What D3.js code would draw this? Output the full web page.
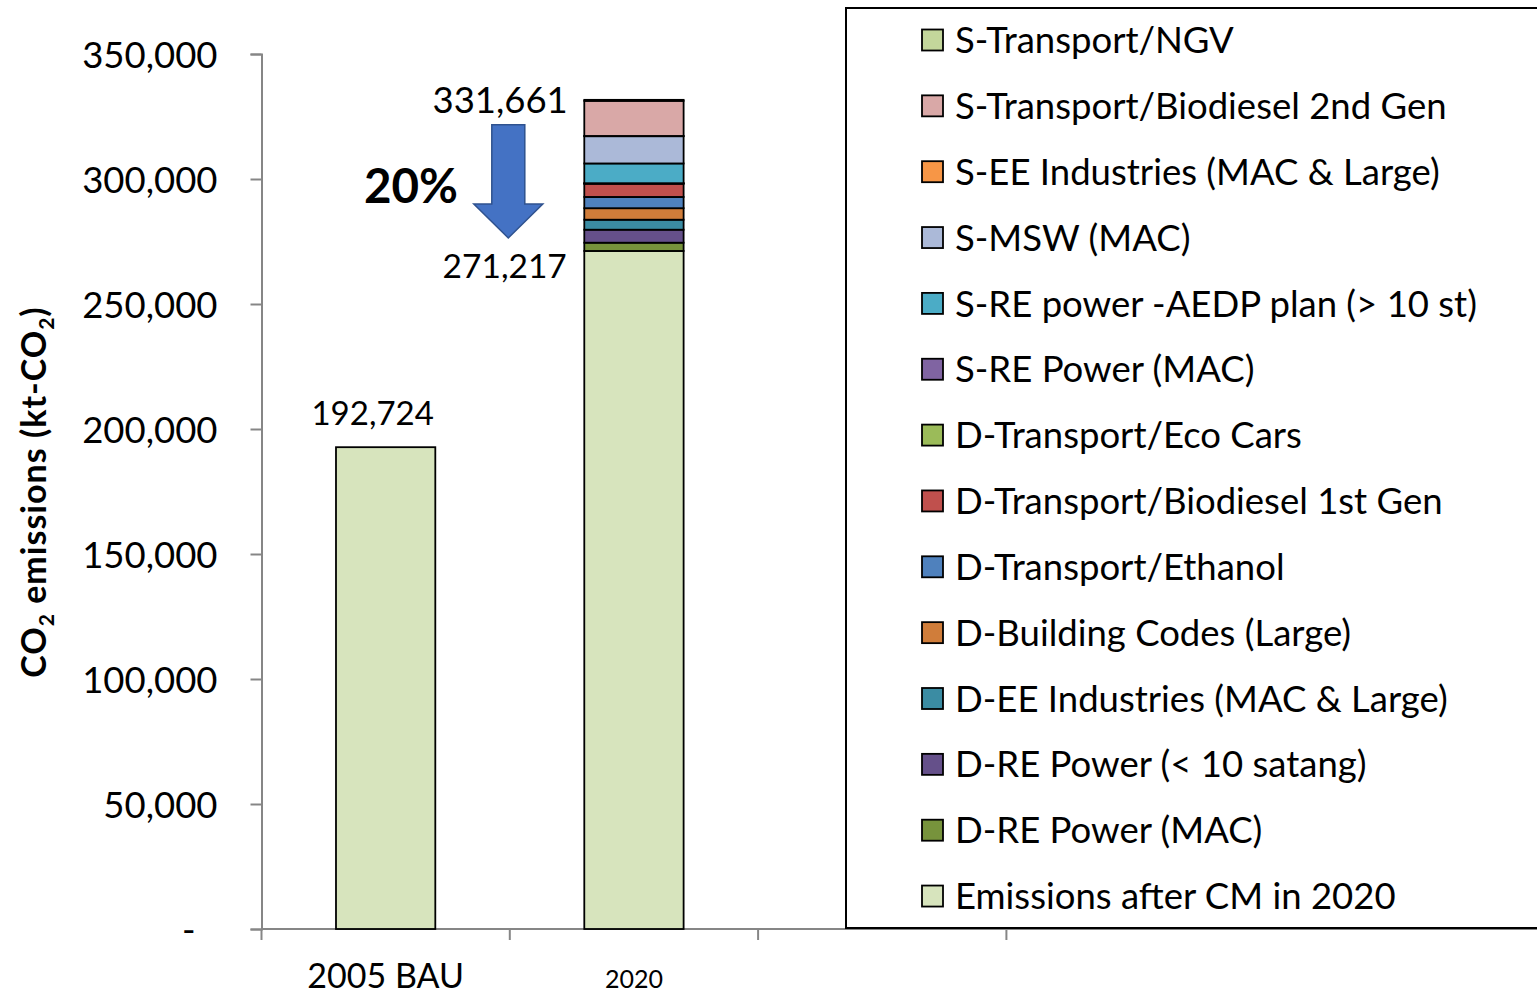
<!DOCTYPE html>
<html>
<head>
<meta charset="utf-8">
<script src="https://cdn.jsdelivr.net/npm/d3@7"></script>
<style>
  body { margin: 0; background: #fff; }
  text { font-family: Lato, "Open Sans", sans-serif; fill: #000; }
</style>
</head>
<body>
<div id="chart"></div>
<script>
// data
var categories = ["2005 BAU", "2020", "c3", "c4"];
var bau2005 = 192724;
var total2020 = 331661;
var base2020 = 271217;
// stack order bottom -> top (legend shows top -> bottom)
var seriesNames = [
    "Emissions after CM in 2020",
    "D-RE Power (MAC)",
    "D-RE Power (< 10 satang)",
    "D-EE Industries (MAC & Large)",
    "D-Building Codes (Large)",
    "D-Transport/Ethanol",
    "D-Transport/Biodiesel 1st Gen",
    "D-Transport/Eco Cars",
    "S-RE Power (MAC)",
    "S-RE power -AEDP plan (> 10 st)",
    "S-MSW (MAC)",
    "S-EE Industries (MAC & Large)",
    "S-Transport/Biodiesel 2nd Gen",
    "S-Transport/NGV"
];
var values2020 = [271217, 3300, 5200, 4000, 4600, 4500, 5300, 100, 100, 7900, 10900, 100, 14044, 400];
var seriesColors = ["#d7e4bd", "#77933c", "#65508a", "#3b8ca3", "#d07d3a", "#4f81bd", "#c0504d",
    "#9bbb59", "#8064a2", "#4bacc6", "#abb9d8", "#f79646", "#d9a8a7", "#c3d69b"];
var yTicks = [0, 50000, 100000, 150000, 200000, 250000, 300000, 350000];

var width = 1537, height = 994;
var svg = d3.select("#chart").append("svg")
    .attr("width", width)
    .attr("height", height);

var axisX = 261.5, axisBottom = 929, axisTop = 54;
var y = d3.scaleLinear().domain([0, 350000]).range([axisBottom, axisTop]);
var x = d3.scaleBand().domain(categories).range([axisX, axisX + 4 * 248.3]);
var barW = x.bandwidth() * 0.4;

// y axis
var yAxis = svg.append("g")
    .attr("transform", "translate(" + axisX + ",0)")
    .call(d3.axisLeft(y).tickValues(yTicks).tickSize(11).tickPadding(33)
        .tickFormat((d) => {return d === 0 ? "-" : d3.format(",")(d);}));
yAxis.selectAll("line").style("stroke", "#868686").style("stroke-width", 2);
yAxis.select(".domain").style("stroke", "#868686").style("stroke-width", 2);
yAxis.selectAll("text").style("font-family", "Lato").style("font-size", "36.5px")
    .attr("dy", "0.36em")
    .attr("dx", (d) => {return d === 0 ? -22 : 0;});

// x axis (ticks between categories, excel style)
svg.append("line")
    .attr("x1", axisX).attr("x2", width)
    .attr("y1", axisBottom).attr("y2", axisBottom)
    .style("stroke", "#868686").style("stroke-width", 2);
svg.selectAll(".xtick")
    .data(categories).enter()
    .append("line")
    .attr("class", "xtick")
    .attr("x1", (d) => {return x(d);})
    .attr("x2", (d) => {return x(d);})
    .attr("y1", axisBottom)
    .attr("y2", axisBottom + 11)
    .style("stroke", "#868686").style("stroke-width", 2);
svg.append("text")
    .text("2005 BAU")
    .attr("text-anchor", "middle")
    .attr("x", x("2005 BAU") + x.bandwidth() / 2)
    .attr("y", 988)
    .style("font-size", "34px");
svg.append("text")
    .text("2020")
    .attr("text-anchor", "middle")
    .attr("x", x("2020") + x.bandwidth() / 2)
    .attr("y", 988)
    .style("font-size", "25px");

// y title
var yTitle = svg.append("text")
    .attr("transform", "translate(46,492) rotate(-90)")
    .attr("text-anchor", "middle")
    .style("font-weight", "bold")
    .style("font-size", "34px")
    .style("letter-spacing", "1px");
yTitle.append("tspan").text("CO");
yTitle.append("tspan").text("2").style("font-size", "21px").attr("dy", 8);
yTitle.append("tspan").text(" emissions (kt-CO").attr("dy", -8);
yTitle.append("tspan").text("2").style("font-size", "21px").attr("dy", 8);
yTitle.append("tspan").text(")").attr("dy", -8);

// 2005 bar
var cx0 = x("2005 BAU") + x.bandwidth() / 2;
svg.append("rect")
    .attr("x", cx0 - barW / 2)
    .attr("y", y(bau2005))
    .attr("width", barW)
    .attr("height", y(0) - y(bau2005))
    .style("fill", seriesColors[0])
    .style("stroke", "#000")
    .style("stroke-width", 1.8);

// 2020 stacked bar
var cx1 = x("2020") + x.bandwidth() / 2;
var stackRows = [];
var acc = 0;
for (var i = 0; i < values2020.length; i++) {
    stackRows.push({y0: acc, y1: acc + values2020[i], color: seriesColors[i]});
    acc += values2020[i];
}
svg.selectAll(".seg")
    .data(stackRows).enter()
    .append("rect")
    .attr("class", "seg")
    .attr("x", cx1 - barW / 2)
    .attr("y", (d) => {return y(d.y1);})
    .attr("width", barW)
    .attr("height", (d) => {return y(d.y0) - y(d.y1);})
    .style("fill", (d) => {return d.color;})
    .style("stroke", "#000")
    .style("stroke-width", 1.8);

// value labels
svg.append("text")
    .text(d3.format(",")(bau2005))
    .attr("text-anchor", "middle")
    .attr("x", cx0 - 13)
    .attr("y", y(bau2005) - 22)
    .style("font-size", "33px");
svg.append("text")
    .text(d3.format(",")(total2020))
    .attr("text-anchor", "end")
    .attr("x", x("2020") + 58)
    .attr("y", y(total2020) + 13)
    .style("font-size", "36.5px");
svg.append("text")
    .text(d3.format(",")(base2020))
    .attr("text-anchor", "end")
    .attr("x", x("2020") + 57)
    .attr("y", y(base2020) + 27)
    .style("font-size", "33.5px");

// reduction arrow
var ax = x("2020") - 1.5;
var aTop = y(total2020) + 25, aNeck = y(base2020) - 47, aTip = y(base2020) - 13;
var shaftHalf = 16.5, headHalf = 34.5;
var arrowPts = [[ax - shaftHalf, aTop], [ax + shaftHalf, aTop], [ax + shaftHalf, aNeck],
    [ax + headHalf, aNeck], [ax, aTip], [ax - headHalf, aNeck], [ax - shaftHalf, aNeck]];
svg.append("polygon")
    .attr("points", arrowPts.map((p) => {return p.join(",");}).join(" "))
    .style("fill", "#4472c4")
    .style("stroke", "#2f528f")
    .style("stroke-width", 1.5);
svg.append("text")
    .text("20%")
    .attr("x", 364)
    .attr("y", 203)
    .style("font-weight", "bold")
    .style("font-size", "47.5px");

// legend
svg.append("rect")
    .attr("x", 846)
    .attr("y", 8)
    .attr("width", 720)
    .attr("height", 920)
    .style("fill", "#fff")
    .style("stroke", "#000")
    .style("stroke-width", 2);
var legendNames = seriesNames.slice().reverse();
var legendColors = seriesColors.slice().reverse();
var rowH = 65.85;
var leg = svg.selectAll(".leg")
    .data(legendNames).enter()
    .append("g")
    .attr("class", "leg")
    .attr("transform", (d, i) => {return "translate(922," + (40 + i * rowH) + ")";});
leg.append("rect")
    .attr("x", 0)
    .attr("y", -10.5)
    .attr("width", 21)
    .attr("height", 21)
    .style("fill", (d, i) => {return legendColors[i];})
    .style("stroke", "#000")
    .style("stroke-width", 1.8);
leg.append("text")
    .text((d) => {return d;})
    .attr("x", 33)
    .attr("dy", "0.36em")
    .style("font-size", "36.5px");
</script>
</body>
</html>
